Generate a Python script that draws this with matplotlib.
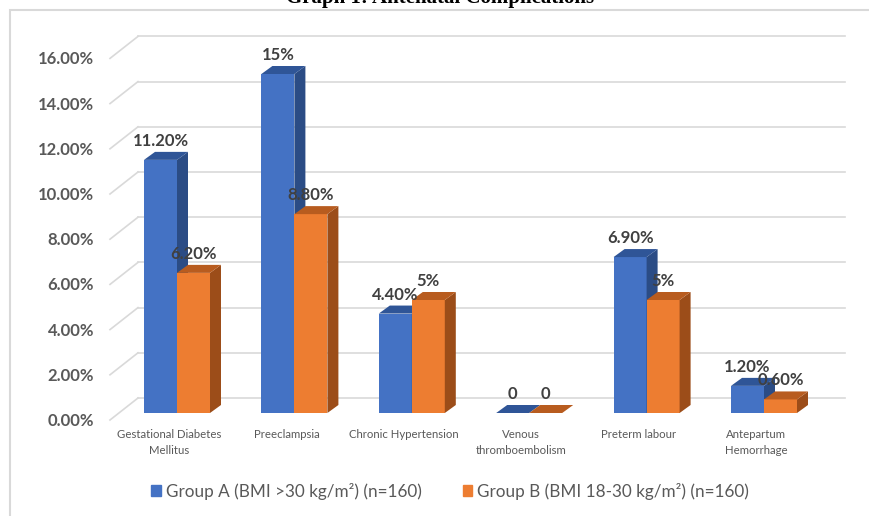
import matplotlib
matplotlib.use('Agg')
import matplotlib.pyplot as plt
from matplotlib.patches import Polygon, Rectangle

# data
categories = ['Gestational Diabetes\nMellitus', 'Preeclampsia', 'Chronic Hypertension',
              'Venous\nthromboembolism', 'Preterm labour', 'Antepartum\nHemorrhage']
group_a = [11.2, 15.0, 4.4, 0.0, 6.9, 1.2]
group_b = [6.2, 8.8, 5.0, 0.0, 5.0, 0.6]
labels_a = ['11.20%', '15%', '4.40%', '0', '6.90%', '1.20%']
labels_b = ['6.20%', '8.80%', '5%', '0', '5%', '0.60%']
yticks = [0, 2, 4, 6, 8, 10, 12, 14, 16]
series_names = ['Group A (BMI >30 kg/m²) (n=160)', 'Group B (BMI 18-30 kg/m²) (n=160)']

# colours: front, top, side
blue = ('#4472C4', '#2F5597', '#2B4C85')
orange = ('#ED7D31', '#B85C1F', '#9C4D19')
grid_c = '#D9D9D9'
txt_c = '#404040'
tick_c = '#595959'

W, H = 869, 516
fig = plt.figure(figsize=(W / 100, H / 100), dpi=100)
ax = fig.add_axes([0, 0, 1, 1])

# pixel layout of the fake 3d plane
cx0, cstep = 177, 117.4   # first category centre, category spacing (px)
y0, ystep = 413, 22.6     # bar zero line, px per percent
ax.set_xlim(-cx0 / cstep, (W - cx0) / cstep)
ax.set_ylim((y0 - H) / ystep, y0 / ystep)
ax.axis('off')


def px(d):
    return d / cstep


def py(d):
    return d / ystep


bw = px(33)
ddx, ddy = px(11), py(8)

# back wall gridlines + diagonal floor edges + tick labels
for v in yticks:
    ax.plot([px(138 - cx0), px(845 - cx0)], [v + py(15)] * 2, color=grid_c, lw=1.2, zorder=0)
    ax.plot([px(110 - cx0), px(138 - cx0)], [v - py(7), v + py(15)], color=grid_c, lw=1.2, zorder=0)
    ax.text(px(94 - cx0), v - py(8), f'{v:.2f}%', ha='right', va='center',
            fontsize=12, fontweight='bold', color=tick_c, family='Lato')


def bar3d(xs, hs, cols, z):
    ax.bar(xs, hs, width=bw, color=cols[0], zorder=z, linewidth=0)
    for x, h in zip(xs, hs):
        l = x - bw / 2
        r = x + bw / 2
        top = Polygon([(l, h), (r, h), (r + ddx, h + ddy), (l + ddx, h + ddy)],
                      closed=True, facecolor=cols[1], edgecolor='none', zorder=z)
        side = Polygon([(r, 0), (r + ddx, ddy), (r + ddx, h + ddy), (r, h)],
                       closed=True, facecolor=cols[2], edgecolor='none', zorder=z)
        ax.add_patch(side)
        ax.add_patch(top)


idx = list(range(len(categories)))
xa = [i - bw / 2 for i in idx]
xb = [i + bw / 2 for i in idx]
bar3d(xa, group_a, blue, 2)
bar3d(xb, group_b, orange, 3)

for x, h, s in zip(xa, group_a, labels_a):
    ax.text(x, h + py(19), s, ha='center', va='center', fontsize=12,
            fontweight='bold', color=txt_c, family='Lato', zorder=6)
for x, h, s in zip(xb, group_b, labels_b):
    ax.text(x, h + py(19), s, ha='center', va='center', fontsize=12,
            fontweight='bold', color=txt_c, family='Lato', zorder=6)

for i, c in zip(idx, categories):
    ax.text(i - px(8), -py(16), c, ha='center', va='top', fontsize=8.2,
            color=tick_c, family='Lato', linespacing=1.55)

handles = [Rectangle((0, 0), 1, 1, color=blue[0]), Rectangle((0, 0), 1, 1, color=orange[0])]
fig.legend(handles, series_names, loc='center', bbox_to_anchor=(450 / W, 1 - 491 / H),
           ncol=2, frameon=False, handlelength=0.55, handleheight=0.55,
           handletextpad=0.3, columnspacing=2.4,
           prop={'family': 'Lato', 'size': 12.3}, labelcolor=tick_c)

# outer box and clipped title
fig.patches.append(Rectangle((10 / W, -0.1), 1.2, 1.1 - 9.5 / H, transform=fig.transFigure,
                             fill=False, edgecolor=grid_c, lw=1.5))
fig.text(440 / W, 1 - 2.5 / H, 'Graph 1: Antenatal Complications', ha='center', va='baseline',
         family='Liberation Serif', fontweight='bold', fontsize=15)

fig.savefig('out.png', dpi=100)
